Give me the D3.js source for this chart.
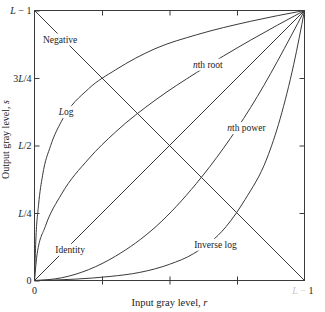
<!doctype html>
<html>
<head>
  <meta charset="utf-8">
  <title>Basic gray-level transformation functions</title>
  <script src="https://cdnjs.cloudflare.com/ajax/libs/d3/7.8.5/d3.min.js"></script>
  <style>
    html, body { margin: 0; padding: 0; background: #fff; }
    svg { display: block; font-family: "Liberation Serif", "DejaVu Serif", serif; }
  </style>
</head>
<body>
  <div id="my-svg-chart"></div>
  <script>
    // tick positions, as fraction of L-1
    const tickValues = [0, 0.25, 0.5, 0.75, 1];
    const yTickLabels = ['0', 'L/4', 'L/2', '3L/4', 'L \u2212 1'];

    // curves, [input r, output s]
    const identity = [[0, 0], [1, 1]];
    const negative = [[0, 1], [1, 0]];
    const logCurve = [[0, 0], [0.005, 0.15], [0.015, 0.28], [0.03, 0.39], [0.06, 0.50], [0.1, 0.59],
                      [0.2, 0.71], [0.3, 0.78], [0.45, 0.86], [0.6, 0.91], [0.8, 0.96], [1, 1]];
    const nthRoot = [[0, 0], [0.01, 0.1], [0.04, 0.2], [0.1, 0.32], [0.2, 0.45], [0.3, 0.55],
                     [0.45, 0.67], [0.6, 0.77], [0.8, 0.89], [1, 1]];
    const nthPower = [[0, 0], [0.1, 0.01], [0.2, 0.04], [0.3, 0.09], [0.45, 0.2], [0.6, 0.36],
                      [0.8, 0.64], [1, 1]];
    const inverseLog = [[0, 0], [0.15, 0.005], [0.28, 0.015], [0.39, 0.03], [0.5, 0.06], [0.59, 0.1],
                        [0.71, 0.2], [0.78, 0.3], [0.86, 0.45], [0.91, 0.6], [0.96, 0.8], [1, 1]];

    // curve names and where they sit (r, s)
    const curveLabels = ['Negative', 'Log', 'nth root', 'nth power', 'Identity', 'Inverse log'];
    const labelR = [0.095, 0.117, 0.642, 0.785, 0.132, 0.67];
    const labelS = [0.893, 0.624, 0.80, 0.565, 0.114, 0.133];

    const width = 325, height = 312;
    const ink = '#3a3a3a';

    const svg = d3.select('#my-svg-chart')
      .append('svg')
      .attr('width', width)
      .attr('height', height);

    const x = d3.scaleLinear().domain([0, 1]).range([34.5, 304.5]);
    const y = d3.scaleLinear().domain([0, 1]).range([280.5, 10.5]);

    // italic L / n helper
    const italicize = s => s.replace(/L/g, '<tspan font-style="italic">L</tspan>')
                            .replace(/^n/, '<tspan font-style="italic">n</tspan>');

    // frame
    svg.append('rect')
      .attr('x', x(0)).attr('y', y(1))
      .attr('width', x(1) - x(0)).attr('height', y(0) - y(1))
      .attr('fill', 'none').attr('stroke', ink).attr('stroke-width', 1);

    function styleAxis(g) {
      g.select('.domain').remove();
      g.selectAll('line').attr('stroke', ink);
      g.selectAll('text')
        .attr('fill', '#222')
        .style('font-family', '"Liberation Serif", serif')
        .style('font-size', '10px');
    }

    // left axis with labels
    svg.append('g')
      .attr('transform', `translate(${x(0)},0)`)
      .call(d3.axisLeft(y).tickValues(tickValues).tickSize(-5).tickPadding(3).tickFormat(''))
      .call(styleAxis)
      .selectAll('text')
      .html((d, i) => italicize(yTickLabels[i]));

    // right axis, ticks only
    svg.append('g')
      .attr('transform', `translate(${x(1)},0)`)
      .call(d3.axisRight(y).tickValues(tickValues.slice(1, 4)).tickSize(-5).tickFormat(''))
      .call(styleAxis);

    // top axis, ticks only
    svg.append('g')
      .attr('transform', `translate(0,${y(1)})`)
      .call(d3.axisTop(x).tickValues(tickValues.slice(1, 4)).tickSize(-5).tickFormat(''))
      .call(styleAxis);

    // bottom axis: crossing ticks
    svg.append('g')
      .attr('transform', `translate(0,${y(0)})`)
      .call(d3.axisBottom(x).tickValues(tickValues.slice(1, 4)).tickSize(-4).tickFormat(''))
      .call(styleAxis);
    svg.append('g')
      .attr('transform', `translate(0,${y(0)})`)
      .call(d3.axisBottom(x).tickValues(tickValues.slice(1, 4)).tickSize(4).tickFormat(''))
      .call(styleAxis);

    // bottom end labels
    svg.append('text')
      .attr('x', x(0)).attr('y', y(0) + 13)
      .attr('text-anchor', 'middle')
      .style('font-size', '10px').attr('fill', '#222')
      .text('0');
    svg.append('text')
      .attr('x', x(1) + 9).attr('y', y(0) + 13)
      .attr('text-anchor', 'end')
      .style('font-size', '10px')
      .html('<tspan fill="#c8c8c8" font-style="italic">L</tspan><tspan fill="#c8c8c8"> \u2212 </tspan><tspan fill="#222">1</tspan>');

    // curves
    const line = d3.line()
      .x(d => x(d[0]))
      .y(d => y(d[1]))
      .curve(d3.curveMonotoneX);

    svg.append('g')
      .selectAll('path')
      .data([identity, negative, logCurve, nthRoot, nthPower, inverseLog])
      .join('path')
      .attr('d', line)
      .attr('fill', 'none')
      .attr('stroke', ink)
      .attr('stroke-width', 1);

    // curve labels on white patches that break the curves
    const labels = svg.append('g')
      .selectAll('g')
      .data(curveLabels)
      .join('g')
      .attr('transform', (d, i) => `translate(${x(labelR[i])},${y(labelS[i])})`);

    labels.append('text')
      .attr('text-anchor', 'middle')
      .attr('dy', '0.33em')
      .style('font-size', '9.5px')
      .attr('fill', '#222')
      .html(d => italicize(d));

    labels.each(function() {
      const g = d3.select(this);
      const bb = g.select('text').node().getBBox();
      g.insert('rect', 'text')
        .attr('x', bb.x - 2).attr('y', bb.y - 1)
        .attr('width', bb.width + 4).attr('height', bb.height + 2)
        .attr('fill', '#fff');
    });

    // axis titles
    svg.append('text')
      .attr('transform', `translate(9,${(y(0) + y(1)) / 2 - 6}) rotate(-90)`)
      .attr('text-anchor', 'middle')
      .style('font-size', '10px')
      .attr('fill', '#222')
      .html('Output gray level, <tspan font-style="italic">s</tspan>');

    svg.append('text')
      .attr('x', (x(0) + x(1)) / 2).attr('y', 306)
      .attr('text-anchor', 'middle')
      .style('font-size', '10.5px')
      .attr('fill', '#222')
      .html('Input gray level, <tspan font-style="italic">r</tspan>');
  </script>
</body>
</html>
